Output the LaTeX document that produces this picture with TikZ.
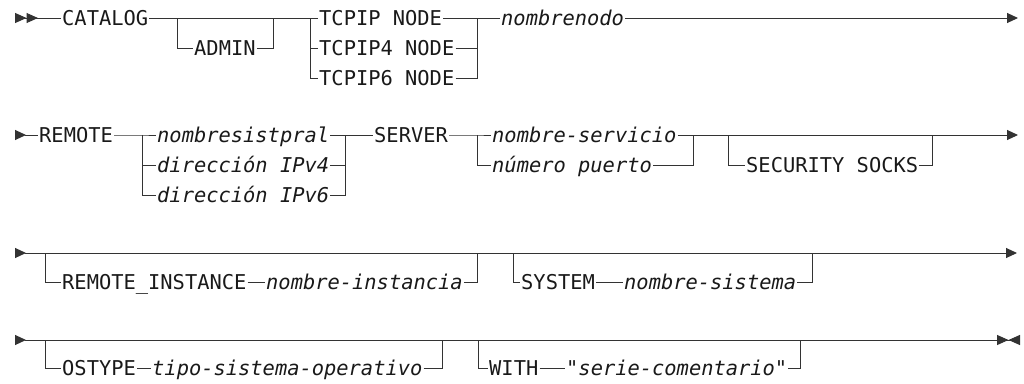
\documentclass[tikz,border=0pt]{standalone}
\usepackage{fontspec}
\usepackage{tikz}
\usetikzlibrary{arrows.meta}
\newfontfamily\railfont{DejaVu Sans Mono}
\tikzset{
  rail/.style={line width=1pt, draw=black!80},
  kw/.style={font=\railfont\fontsize{20.4}{22}\selectfont, text=black!90, inner xsep=1pt, inner ysep=0pt,
    text height=14.8pt, text depth=0pt, anchor=west},
  var/.style={kw, font=\railfont\fontsize{20.4}{22}\selectfont\itshape},
  starttip/.style={{Triangle[reversed, length=11pt, width=10pt]}-},
  startdbl/.style={{Triangle[reversed, length=11.5pt, width=10pt, sep=0pt]Triangle[reversed, length=11.5pt, width=10pt, sep=0pt]}-},
  endtip/.style={-{Triangle[length=11pt, width=10pt]}},
  endpair/.style={-{Triangle[length=11.5pt, width=10pt, sep=0pt]Triangle[reversed, length=11.5pt, width=10pt, sep=0pt]}}
}
\begin{document}
\begin{tikzpicture}[x=1pt, y=-1pt]
            \useasboundingbox (0,0) rectangle (1024,383);

            % fila 1
            \coordinate (r1s) at (15,18);
            \coordinate (a1) at (177,18);
            \coordinate (a2) at (273,18);
            \coordinate (b1) at (310,18);
            \coordinate (b2) at (477,18);
            \coordinate (r1e) at (1018,18);
            \node (catalog) [kw] at (61,18) {CATALOG};
            \node (admin) [kw] at (193,48) {ADMIN};
            \node (tcpip) [kw] at (318,18) {TCPIP NODE};
            \node (tcpipf) [kw] at (318,48) {TCPIP4 NODE};
            \node (tcpips) [kw] at (318,78) {TCPIP6 NODE};
            \node (nodename) [var] at (500,18) {nombrenodo};

            \draw[rail, startdbl] (r1s) -- (catalog);
            \draw[rail] (catalog) -- (b1);
            \draw[rail] (a1) |- (admin);
            \draw[rail] (admin) -| (a2);
            \draw[rail] (b1) -- (tcpip);
            \draw[rail] (b1) |- (tcpipf);
            \draw[rail] (b1) |- (tcpips);
            \draw[rail] (tcpip) -- (b2);
            \draw[rail] (tcpipf) -| (b2);
            \draw[rail] (tcpips) -| (b2);
            \draw[rail] (b2) -- (nodename);
            \draw[rail, endtip] (nodename) -- (r1e);

            % fila 2
            \coordinate (r2s) at (15,135);
            \coordinate (c1) at (142,135);
            \coordinate (c2) at (345,135);
            \coordinate (d1) at (477,135);
            \coordinate (d2) at (693,135);
            \coordinate (e1) at (728,135);
            \coordinate (e2) at (932,135);
            \coordinate (r2e) at (1018,135);
            \node (remote) [kw] at (38,135) {REMOTE};
            \node (hostname) [var] at (156,135) {nombresistpral};
            \node (ipvf) [var] at (156,165) {dirección IPv4};
            \node (ipvs) [var] at (156,195) {dirección IPv6};
            \node (server) [kw] at (373,135) {SERVER};
            \node (service) [var] at (491,135) {nombre-servicio};
            \node (port) [var] at (491,165) {número puerto};
            \node (socks) [kw] at (745,165) {SECURITY SOCKS};

            \draw[rail, starttip] (r2s) -- (remote);
            \draw[rail] (remote) -- (c1) -- (hostname);
            \draw[rail] (c1) |- (ipvf);
            \draw[rail] (c1) |- (ipvs);
            \draw[rail] (hostname) -- (c2);
            \draw[rail] (ipvf) -| (c2);
            \draw[rail] (ipvs) -| (c2);
            \draw[rail] (c2) -- (server);
            \draw[rail] (server) -- (d1) -- (service);
            \draw[rail] (d1) |- (port);
            \draw[rail] (service) -- (d2);
            \draw[rail] (port) -| (d2);
            \draw[rail, endtip] (d2) -- (r2e);
            \draw[rail] (e1) |- (socks);
            \draw[rail] (socks) -| (e2);

            % fila 3
            \coordinate (r3s) at (15,253);
            \coordinate (f1) at (45,253);
            \coordinate (f2) at (477,253);
            \coordinate (g1) at (513,253);
            \coordinate (g2) at (812,253);
            \coordinate (r3e) at (1017,253);
            \node (rinst) [kw] at (61,282) {REMOTE\_INSTANCE};
            \node (iname) [var] at (265,282) {nombre-instancia};
            \node (system) [kw] at (520,282) {SYSTEM};
            \node (sname) [var] at (623,282) {nombre-sistema};

            \draw[rail, starttip] (r3s) -- (f1);
            \draw[rail, endtip] (f1) -- (r3e);
            \draw[rail] (f1) |- (rinst);
            \draw[rail] (rinst) -- (iname);
            \draw[rail] (iname) -| (f2);
            \draw[rail] (g1) |- (system);
            \draw[rail] (system) -- (sname);
            \draw[rail] (sname) -| (g2);

            % fila 4
            \coordinate (r4s) at (15,340);
            \coordinate (h1) at (45,340);
            \coordinate (h2) at (442,340);
            \coordinate (k1) at (478,340);
            \coordinate (k2) at (800,340);
            \coordinate (r4e) at (1020,340);
            \node (ostype) [kw] at (61,368) {OSTYPE};
            \node (ostname) [var] at (151,368) {tipo-sistema-operativo};
            \node (with) [kw] at (488,368) {WITH};
            \node (comment) [var] at (565,368) {"serie-comentario"};

            \draw[rail, starttip] (r4s) -- (h1);
            \draw[rail, endpair] (h1) -- (r4e);
            \draw[rail] (h1) |- (ostype);
            \draw[rail] (ostype) -- (ostname);
            \draw[rail] (ostname) -| (h2);
            \draw[rail] (k1) |- (with);
            \draw[rail] (with) -- (comment);
            \draw[rail] (comment) -| (k2);

      \end{tikzpicture}
\end{document}
